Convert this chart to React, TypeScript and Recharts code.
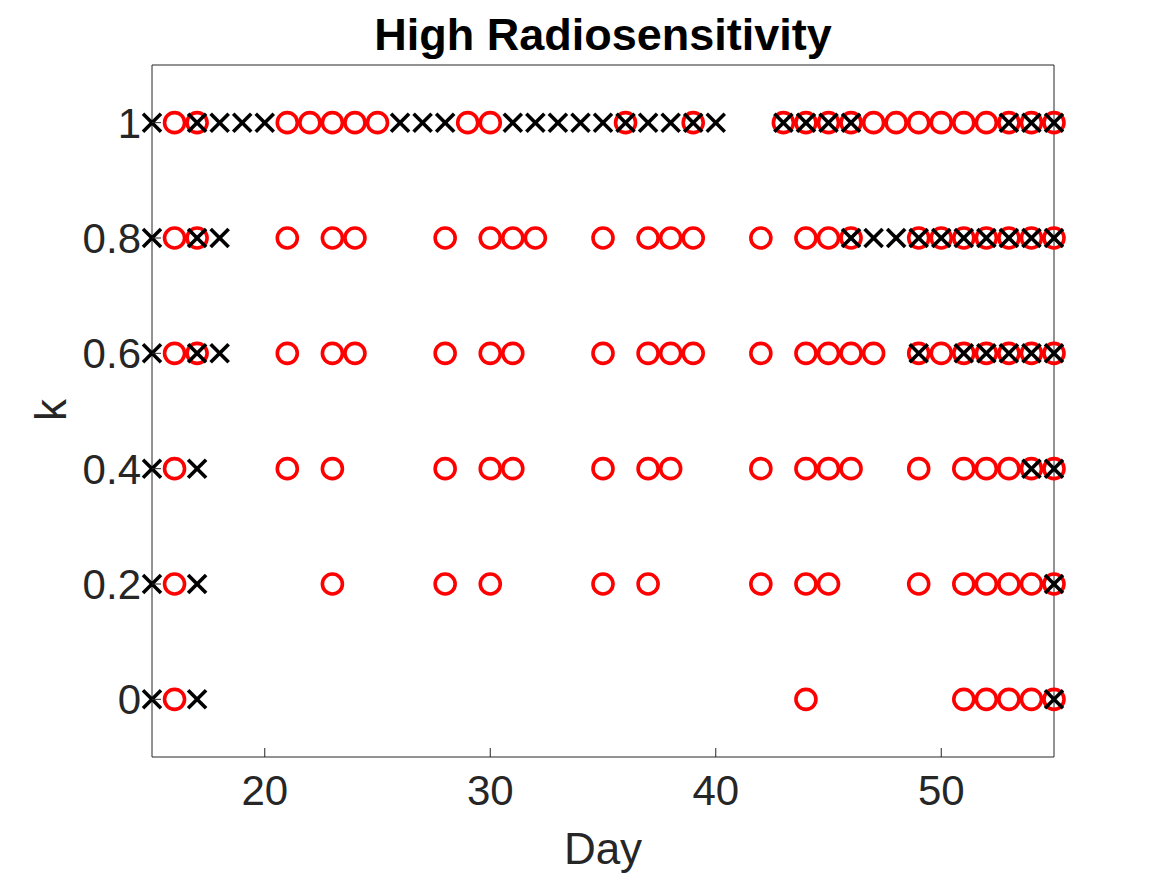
import React from 'react';
import { ScatterChart, Scatter, XAxis, YAxis } from 'recharts';

// k levels (rows)
const kLevels = [1, 0.8, 0.6, 0.4, 0.2, 0];

// Red circles: days per k level
const redK100 = [16, 17, 21, 22, 23, 24, 25, 29, 30, 36, 39, 43, 44, 45, 46, 47, 48, 49, 50, 51, 52, 53, 54, 55];
const redK080 = [16, 17, 21, 23, 24, 28, 30, 31, 32, 35, 37, 38, 39, 42, 44, 45, 46, 49, 50, 51, 52, 53, 54, 55];
const redK060 = [16, 17, 21, 23, 24, 28, 30, 31, 35, 37, 38, 39, 42, 44, 45, 46, 47, 49, 50, 51, 52, 53, 54, 55];
const redK040 = [16, 21, 23, 28, 30, 31, 35, 37, 38, 42, 44, 45, 46, 49, 51, 52, 53, 54, 55];
const redK020 = [16, 23, 28, 30, 35, 37, 42, 44, 45, 49, 51, 52, 53, 54, 55];
const redK000 = [16, 44, 51, 52, 53, 54, 55];

// Black crosses: days per k level
const blackK100 = [15, 17, 18, 19, 20, 26, 27, 28, 31, 32, 33, 34, 35, 36, 37, 38, 39, 40, 43, 44, 45, 46, 53, 54, 55];
const blackK080 = [15, 17, 18, 46, 47, 48, 49, 50, 51, 52, 53, 54, 55];
const blackK060 = [15, 17, 18, 49, 51, 52, 53, 54, 55];
const blackK040 = [15, 17, 54, 55];
const blackK020 = [15, 17, 55];
const blackK000 = [15, 17, 55];

const xTicks = [20, 30, 40, 50];
const yTicks = [0, 0.2, 0.4, 0.6, 0.8, 1];
const xDomain = [15, 55];
const yDomain = [-0.1, 1.1];

const redRows = [redK100, redK080, redK060, redK040, redK020, redK000];
const blackRows = [blackK100, blackK080, blackK060, blackK040, blackK020, blackK000];

const redPoints = redRows.flatMap((days, i) => days.map((d) => ({ day: d, k: kLevels[i] })));
const blackPoints = blackRows.flatMap((days, i) => days.map((d) => ({ day: d, k: kLevels[i] })));

const FONT = '"Liberation Sans", Arial, Helvetica, sans-serif';
const AX = '#262626';
const TICK_LEN = 9;

const RedCircle = (props: any) => {
  const { cx, cy } = props;
  if (cx == null || cy == null) return null;
  return <circle cx={cx} cy={cy} r={10} fill="none" stroke="#ff0000" strokeWidth={3.6} />;
};

const BlackCross = (props: any) => {
  const { cx, cy } = props;
  if (cx == null || cy == null) return null;
  const h = 9;
  return (
    <g stroke="#000" strokeWidth={3.6}>
      <line x1={cx - h} y1={cy - h} x2={cx + h} y2={cy + h} />
      <line x1={cx - h} y1={cy + h} x2={cx + h} y2={cy - h} />
    </g>
  );
};

const BottomTick = (props: any) => {
  const { x, y, payload } = props;
  return (
    <g>
      <line x1={x} y1={y} x2={x} y2={y - TICK_LEN} stroke={AX} strokeWidth={1} />
      <text x={x} y={y + 48} textAnchor="middle" fontSize={42} fontFamily={FONT} fill={AX}>
        {String(payload.value)}
      </text>
    </g>
  );
};

const TopTick = (props: any) => {
  const { x, y } = props;
  return <line x1={x} y1={y} x2={x} y2={y + TICK_LEN} stroke={AX} strokeWidth={1} />;
};

const LeftTick = (props: any) => {
  const { x, y, payload } = props;
  return (
    <g>
      <line x1={x} y1={y} x2={x + TICK_LEN} y2={y} stroke={AX} strokeWidth={1} />
      <text x={x - 11} y={y + 15} textAnchor="end" fontSize={42} fontFamily={FONT} fill={AX}>
        {String(payload.value)}
      </text>
    </g>
  );
};

const RightTick = (props: any) => {
  const { x, y } = props;
  return <line x1={x} y1={y} x2={x - TICK_LEN} y2={y} stroke={AX} strokeWidth={1} />;
};

export default function App() {
  return (
    <div style={{ position: 'absolute', left: 0, top: 0, width: 1167, height: 875, background: '#fff' }}>
      <ScatterChart
        width={1167}
        height={875}
        margin={{ top: 64, right: 112, bottom: 58, left: 72 }}
      >
        <XAxis
          xAxisId="b"
          dataKey="day"
          type="number"
          domain={xDomain}
          ticks={xTicks}
          height={60}
          tickSize={0}
          tickMargin={0}
          tickLine={false}
          axisLine={{ stroke: AX, strokeWidth: 1 }}
          tick={<BottomTick />}
          interval={0}
        />
        <XAxis
          xAxisId="t"
          orientation="top"
          dataKey="day"
          type="number"
          domain={xDomain}
          ticks={xTicks}
          height={1}
          tickSize={0}
          tickMargin={0}
          tickLine={false}
          axisLine={{ stroke: AX, strokeWidth: 1 }}
          tick={<TopTick />}
          interval={0}
        />
        <YAxis
          yAxisId="l"
          dataKey="k"
          type="number"
          domain={yDomain}
          ticks={yTicks}
          width={80}
          tickSize={0}
          tickMargin={0}
          tickLine={false}
          axisLine={{ stroke: AX, strokeWidth: 1 }}
          tick={<LeftTick />}
          interval={0}
        />
        <YAxis
          yAxisId="r"
          orientation="right"
          dataKey="k"
          type="number"
          domain={yDomain}
          ticks={yTicks}
          width={1}
          tickSize={0}
          tickMargin={0}
          tickLine={false}
          axisLine={{ stroke: AX, strokeWidth: 1 }}
          tick={<RightTick />}
          interval={0}
        />
        <Scatter
          xAxisId="b"
          yAxisId="l"
          data={redPoints}
          shape={<RedCircle />}
          isAnimationActive={false}
        />
        <Scatter
          xAxisId="b"
          yAxisId="l"
          data={blackPoints}
          shape={<BlackCross />}
          isAnimationActive={false}
        />
      </ScatterChart>
      <svg
        width={1167}
        height={875}
        style={{ position: 'absolute', left: 0, top: 0, pointerEvents: 'none' }}
      >
        <text x={603} y={50} textAnchor="middle" fontSize={45} fontWeight="bold" fontFamily={FONT} fill="#000">
          High Radiosensitivity
        </text>
        <text x={603} y={864} textAnchor="middle" fontSize={44} fontFamily={FONT} fill={AX}>
          Day
        </text>
        <text
          x={0}
          y={0}
          transform="translate(66,410) rotate(-90)"
          textAnchor="middle"
          fontSize={44}
          fontFamily={FONT}
          fill={AX}
        >
          k
        </text>
      </svg>
    </div>
  );
}
